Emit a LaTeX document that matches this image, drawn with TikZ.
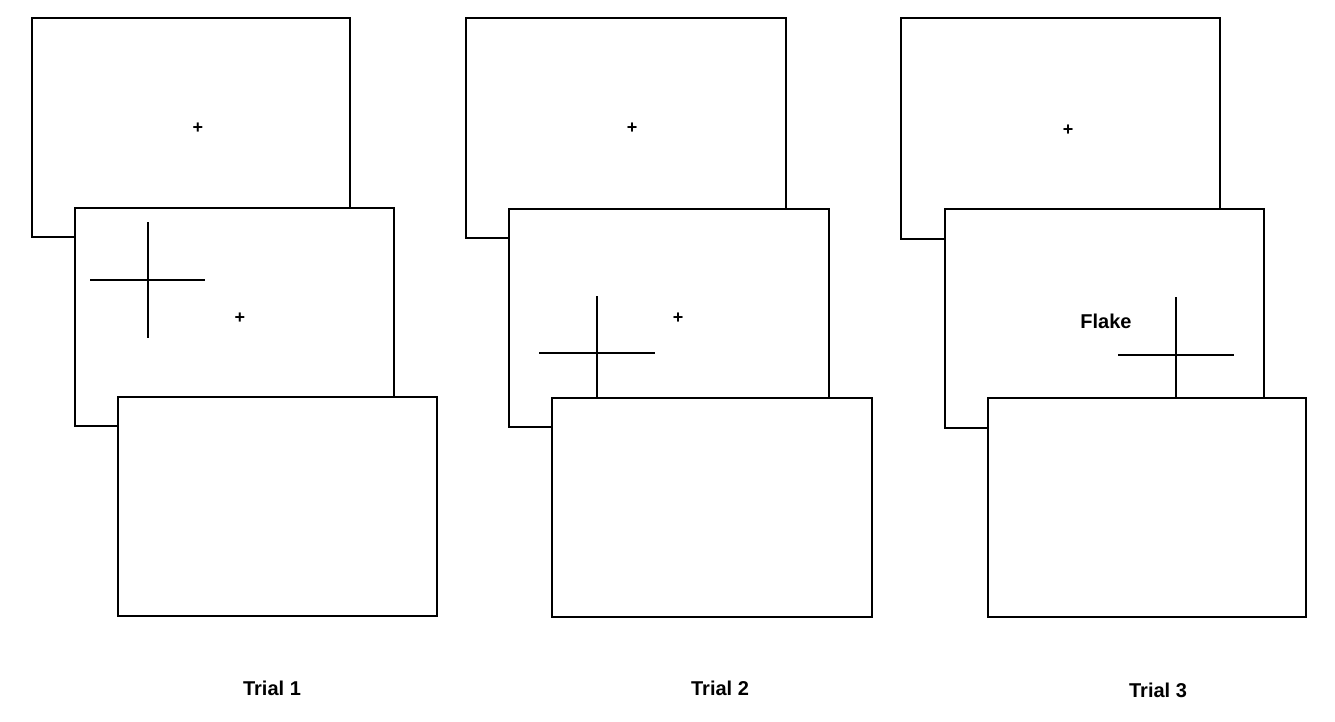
\documentclass[tikz,border=0pt]{standalone}
\usepackage{fontspec}
\setmainfont{Liberation Sans}
\begin{document}
\begin{tikzpicture}[x=1pt,y=-1pt,
  scr/.style={draw=black,line width=2.2pt,fill=white},
  crs/.style={line width=2.2pt},
  fix/.style={font=\bfseries\fontsize{18}{18}\selectfont,inner sep=0pt},
  lab/.style={font=\bfseries\fontsize{20}{20}\selectfont,inner sep=0pt}]
\useasboundingbox (0,0) rectangle (1335,722);
% Trial 1
\draw[scr] (32,18) rectangle (350,237);
\node[fix] (f1a) at (198,128) {+};
\draw[scr] (75,208) rectangle (394,426);
\node[fix] (f1b) at (240,318) {+};
\draw[crs] (90,280) -- (205,280) (148,222) -- (148,338);
\draw[scr] (118,397) rectangle (437,616);
\node[lab] (t1) at (272,688) {Trial 1};
% Trial 2
\draw[scr] (466,18) rectangle (786,238);
\node[fix] (f2a) at (632,128) {+};
\draw[scr] (509,209) rectangle (829,427);
\node[fix] (f2b) at (678,318) {+};
\draw[crs] (539,353) -- (655,353) (597,296) -- (597,398);
\draw[scr] (552,398) rectangle (872,617);
\node[lab] (t2) at (720,688) {Trial 2};
% Trial 3
\draw[scr] (901,18) rectangle (1220,239);
\node[fix] (f3a) at (1068,130) {+};
\draw[scr] (945,209) rectangle (1264,428);
\node[font=\bfseries\fontsize{20}{20}\selectfont] (fl) at (1106,321) {Flake};
\draw[crs] (1118,355) -- (1234,355) (1176,297) -- (1176,398);
\draw[scr] (988,398) rectangle (1306,617);
\node[lab] (t3) at (1158,690) {Trial 3};
\end{tikzpicture}
\end{document}
